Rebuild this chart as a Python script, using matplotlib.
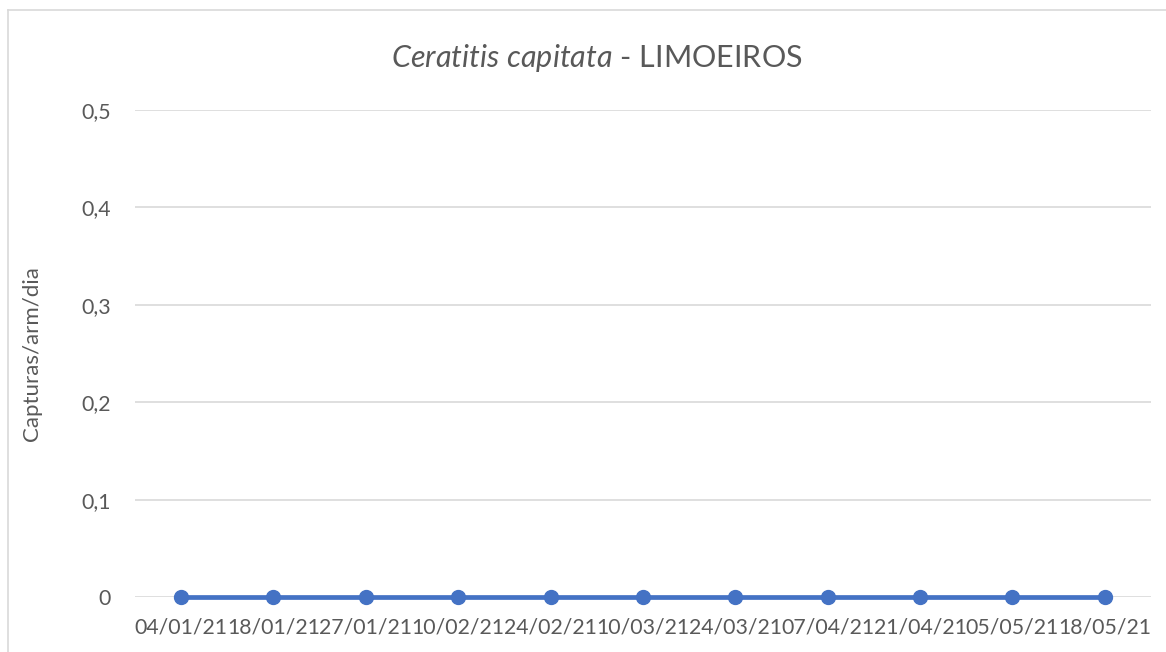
import matplotlib.pyplot as plt
from matplotlib.lines import Line2D

dates = ["04/01/21", "18/01/21", "27/01/21", "10/02/21", "24/02/21", "10/03/21",
         "24/03/21", "07/04/21", "21/04/21", "05/05/21", "18/05/21"]
captures = [0, 0, 0, 0, 0, 0, 0, 0, 0, 0, 0]
y_ticks = [0, 0.1, 0.2, 0.3, 0.4, 0.5]
y_labels = ["0", "0,1", "0,2", "0,3", "0,4", "0,5"]

W, H = 1166, 652
fig = plt.figure(figsize=(W / 100, H / 100), dpi=100)
plt.rcParams['font.family'] = ['Lato', 'DejaVu Sans']
plt.rcParams['mathtext.fontset'] = 'custom'
plt.rcParams['mathtext.rm'] = 'Lato'
plt.rcParams['mathtext.it'] = 'Lato:italic'
gray = "#595959"

# chart border (only top and left visible)
fig.add_artist(Line2D([8 / W, 8 / W], [0, 1 - 10 / H], color="#d9d9d9", lw=1.2))
fig.add_artist(Line2D([8 / W, 1], [1 - 10 / H, 1 - 10 / H], color="#d9d9d9", lw=1.2))

ax = fig.add_axes([134.8 / W, 1 - 597 / H, (1151 - 134.8) / W, (597 - 110) / H])
x = list(range(len(dates)))
ax.plot(x, captures, color="#4472C4", lw=3.4, marker="o", ms=10, zorder=3, clip_on=False)
ax.set_xlim(-0.5, len(dates) - 0.5)
ax.set_ylim(0, 0.5)
ax.set_yticks(y_ticks)
ax.set_yticklabels(y_labels)
ax.set_xticks(x)
ax.set_xticklabels(dates)
ax.tick_params(length=0, labelsize=15.3, colors=gray)
ax.tick_params(axis="y", pad=17)
ax.tick_params(axis="x", pad=15)
ax.grid(axis="y", color="#d9d9d9", lw=1.2)
ax.set_axisbelow(True)
for s in ax.spines.values():
    s.set_visible(False)
ax.set_ylabel("Capturas/arm/dia", fontsize=16, color=gray)
ax.yaxis.set_label_coords(-93 / (1151 - 134.8), 0.5)

fig.text(597 / W, 1 - 58 / H, r"$\it{Ceratitis\ capitata}$ - LIMOEIROS",
         ha="center", va="center", fontsize=22, color=gray)

fig.savefig("out.png", dpi=100, facecolor="white")
